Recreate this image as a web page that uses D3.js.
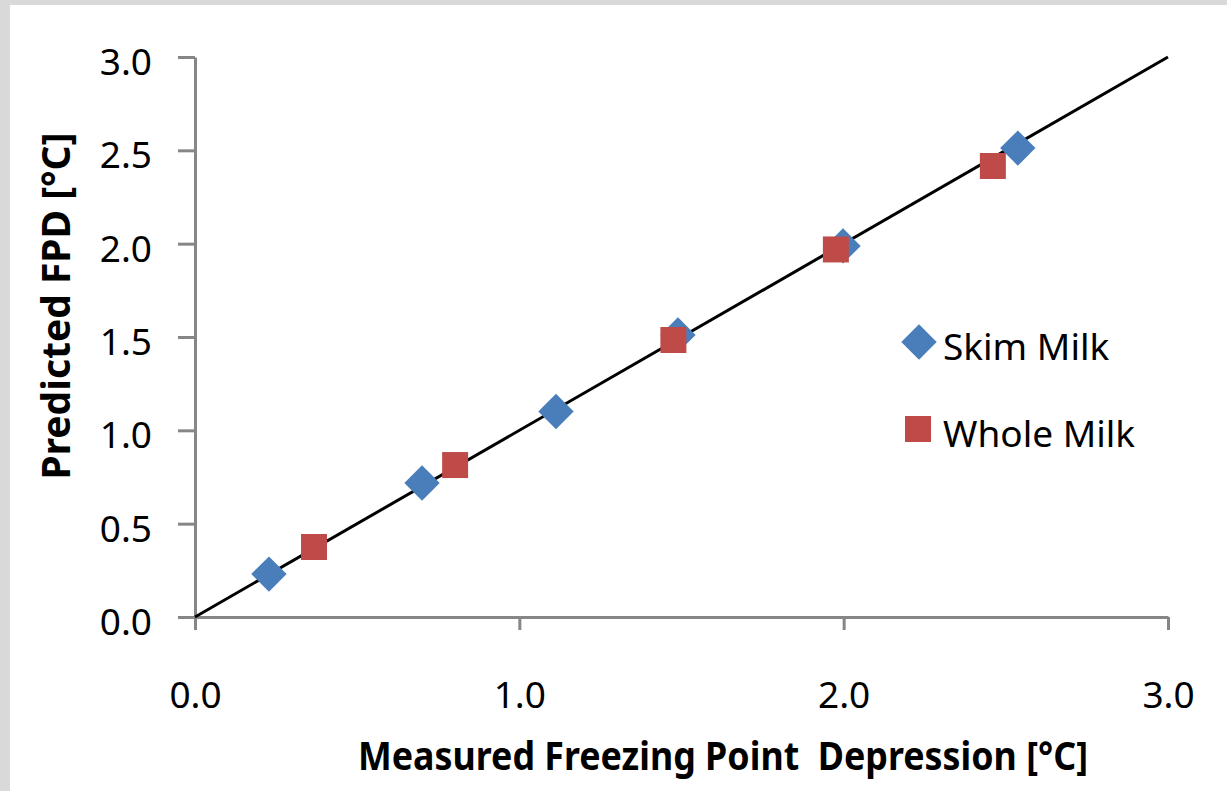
<!DOCTYPE html>
<html lang="en">
<head>
    <meta charset="UTF-8">
    <title>Predicted vs Measured FPD</title>
    <script src="https://d3js.org/d3.v7.min.js"></script>
    <style>
        body { margin: 0; background: #d9d9d9; }
        svg { display: block; font-family: "Noto Sans", "Open Sans", sans-serif; }
    </style>
</head>
<body>
    <div id="chart"></div>
    <script>
        // data
        const skimX = [0.228, 0.700, 1.113, 1.489, 1.998, 2.537];
        const skimY = [0.230, 0.718, 1.101, 1.511, 1.988, 2.512];
        const wholeX = [0.367, 0.802, 1.475, 1.976, 2.460];
        const wholeY = [0.375, 0.814, 1.484, 1.969, 2.416];
        const lineX = [0, 3];
        const lineY = [0, 3];
        const xTicks = [0, 1, 2, 3];
        const yTicks = [0, 0.5, 1, 1.5, 2, 2.5, 3];
        const seriesNames = ["Skim Milk", "Whole Milk"];

        const width = 1227;
        const height = 791;

        const svg = d3.select("#chart").append("svg")
            .attr("width", width)
            .attr("height", height);

        svg.append("rect")
            .attr("width", width)
            .attr("height", height)
            .attr("fill", "#d9d9d9");

        svg.append("rect")
            .attr("x", 10)
            .attr("y", 5)
            .attr("width", width - 10)
            .attr("height", height - 5)
            .attr("fill", "#ffffff");

        const x = d3.scaleLinear().domain([0, 3]).range([195, 1168]);
        const y = d3.scaleLinear().domain([0, 3]).range([617, 57]);

        const fmt = d3.format(".1f");

        // y axis
        const yAxis = svg.append("g")
            .attr("transform", "translate(195,0)")
            .call(d3.axisLeft(y).tickValues(yTicks).tickSize(17).tickSizeOuter(0)
                .tickPadding(26).tickFormat(fmt));

        // x axis
        const xAxis = svg.append("g")
            .attr("transform", "translate(0,617)")
            .call(d3.axisBottom(x).tickValues(xTicks).tickSize(13).tickSizeOuter(0)
                .tickPadding(52).tickFormat(fmt));

        [yAxis, xAxis].forEach(g => {
            g.selectAll("path, line")
                .attr("stroke", "#868686")
                .attr("stroke-width", 3);
            g.selectAll("text")
                .attr("fill", "#000")
                .style("font-size", "37px")
                .style("font-family", "\"Noto Sans\", sans-serif");
        });
        yAxis.selectAll("text").attr("dy", "0.47em");

        // 1:1 line
        const line = d3.line()
            .x(d => x(d[0]))
            .y(d => y(d[1]));

        svg.append("path")
            .datum(d3.zip(lineX, lineY))
            .attr("d", line)
            .attr("fill", "none")
            .attr("stroke", "#000")
            .attr("stroke-width", 3);

        const diamond = d3.symbol().type(d3.symbolSquare).size(25 * 25);
        const square = d3.symbol().type(d3.symbolSquare).size(26 * 26);

        svg.append("g")
            .selectAll("path")
            .data(d3.zip(skimX, skimY))
            .enter().append("path")
            .attr("d", diamond)
            .attr("transform", d => `translate(${x(d[0])},${y(d[1])}) rotate(45)`)
            .attr("fill", "#4a7ebb");

        svg.append("g")
            .selectAll("path")
            .data(d3.zip(wholeX, wholeY))
            .enter().append("path")
            .attr("d", square)
            .attr("transform", d => `translate(${x(d[0])},${y(d[1])})`)
            .attr("fill", "#be4b48");

        // legend
        const legend = svg.append("g");
        legend.append("path")
            .attr("d", diamond)
            .attr("transform", "translate(919,342) rotate(45)")
            .attr("fill", "#4a7ebb");
        legend.append("path")
            .attr("d", square)
            .attr("transform", "translate(918,429)")
            .attr("fill", "#be4b48");
        legend.selectAll("text")
            .data(seriesNames)
            .enter().append("text")
            .attr("x", 943)
            .attr("y", (d, i) => i === 0 ? 360 : 447)
            .style("font-size", "37px")
            .text(d => d);

        // axis titles
        svg.append("text")
            .attr("x", 723)
            .attr("y", 770)
            .attr("text-anchor", "middle")
            .attr("textLength", 730)
            .attr("lengthAdjust", "spacingAndGlyphs")
            .style("font-size", "40px")
            .style("font-weight", "bold")
            .style("white-space", "pre")
            .text("Measured Freezing Point  Depression [°C]");

        svg.append("text")
            .attr("transform", "translate(70,306) rotate(-90)")
            .attr("text-anchor", "middle")
            .attr("textLength", 347)
            .attr("lengthAdjust", "spacingAndGlyphs")
            .style("font-size", "40px")
            .style("font-weight", "bold")
            .text("Predicted FPD [°C]");
    </script>
</body>
</html>
